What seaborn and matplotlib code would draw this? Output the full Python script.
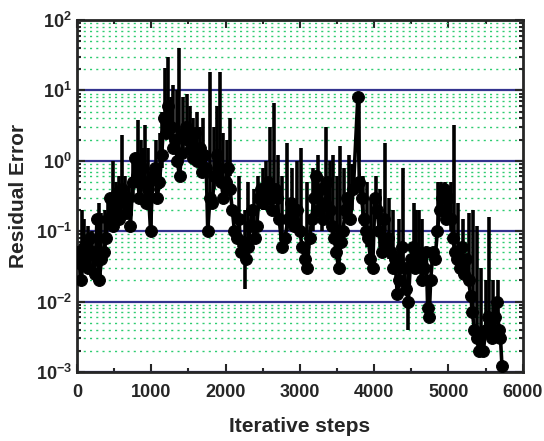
import numpy as np
import matplotlib
matplotlib.use("Agg")
import matplotlib.pyplot as plt
import seaborn as sns
from matplotlib.ticker import LogLocator, LogFormatterSciNotation, MultipleLocator


# -----------------------
# Data
# -----------------------
steps = [
    0, 30, 60, 90, 120, 150, 180, 210, 240, 270, 300, 330, 360, 390,
    420, 450, 480, 510, 540, 570, 600, 630, 660, 690, 720, 750, 780, 810,
    840, 870, 900, 930, 960, 990, 1020, 1050, 1080, 1110, 1140, 1170, 1200,
    1230, 1260, 1290, 1320, 1350, 1380, 1410, 1440, 1470, 1500, 1530, 1560,
    1590, 1620, 1650, 1680, 1710, 1740, 1760, 1790, 1820, 1850, 1880, 1910,
    1940, 1970, 2000, 2030, 2060, 2090, 2120, 2150, 2180, 2210, 2240, 2270,
    2300, 2330, 2360, 2390, 2420, 2450, 2480, 2510, 2540, 2570, 2600, 2630,
    2660, 2690, 2720, 2760, 2800, 2840, 2880, 2920, 2960, 3000, 3030, 3070,
    3100, 3130, 3160, 3190, 3220, 3250, 3280, 3310, 3340, 3370, 3400, 3430,
    3460, 3490, 3520, 3550, 3580, 3610, 3640, 3680, 3720, 3780, 3800, 3830,
    3860, 3890, 3920, 3950, 3980, 4010, 4040, 4070, 4100, 4130, 4160, 4190,
    4220, 4250, 4280, 4310, 4340, 4370, 4400, 4430, 4460, 4490, 4520, 4550,
    4580, 4610, 4640, 4670, 4700, 4720, 4740, 4760, 4790, 4820, 4850, 4880,
    4910, 4940, 4970, 5000, 5030, 5060, 5090, 5120, 5150, 5180, 5210, 5240,
    5270, 5300, 5320, 5350, 5380, 5410, 5440, 5470, 5500, 5530, 5560, 5590,
    5620, 5650, 5680, 5700, 5720,
]
residual = [
    0.05, 0.035, 0.02, 0.06, 0.04, 0.03, 0.08, 0.05, 0.025, 0.15, 0.02, 0.04,
    0.05, 0.08, 0.15, 0.3, 0.12, 0.2, 0.35, 0.15, 0.4, 0.25, 0.18, 0.3, 0.12,
    0.5, 1.1, 0.6, 0.3, 0.8, 0.5, 0.25, 0.4, 0.1, 0.6, 0.8, 0.3, 0.5, 1.2, 4.0,
    2.5, 6.0, 3.0, 1.5, 2.0, 1.0, 0.6, 1.3, 2.5, 3.0, 2.0, 1.5, 1.1, 2.5, 1.0,
    1.5, 0.7, 1.2, 0.8, 0.1, 0.3, 0.25, 0.6, 1.2, 0.8, 0.5, 0.3, 0.5, 0.8, 0.4,
    0.2, 0.1, 0.08, 0.15, 0.05, 0.07, 0.04, 0.06, 0.12, 0.2, 0.08, 0.12, 0.3,
    0.4, 0.25, 0.35, 0.5, 0.3, 0.2, 0.4, 0.3, 0.15, 0.06, 0.08, 0.15, 0.25,
    0.12, 0.2, 0.1, 0.06, 0.04, 0.03, 0.08, 0.15, 0.3, 0.6, 0.2, 0.4, 0.15,
    0.25, 0.5, 0.2, 0.12, 0.08, 0.05, 0.03, 0.07, 0.1, 0.2, 0.3, 0.15, 0.4,
    8.0, 0.5, 0.3, 0.15, 0.1, 0.08, 0.04, 0.03, 0.3, 0.2, 0.1, 0.05, 0.15,
    0.06, 0.08, 0.05, 0.03, 0.04, 0.013, 0.02, 0.06, 0.03, 0.015, 0.01, 0.04,
    0.06, 0.03, 0.05, 0.04, 0.02, 0.03, 0.05, 0.008, 0.006, 0.02, 0.05, 0.04,
    0.1, 0.2, 0.3, 0.4, 0.15, 0.3, 0.15, 0.08, 0.05, 0.04, 0.03, 0.06, 0.025,
    0.04, 0.02, 0.012, 0.007, 0.004, 0.003, 0.002, 0.0035, 0.002, 0.004,
    0.006, 0.005, 0.003, 0.006, 0.01, 0.004, 0.003, 0.0012,
]

# vertical excursions (spikes) between iterations
spike_x = [
    63, 100, 150, 200, 300, 330, 380, 420, 480, 520, 560, 600, 650, 700,
    760, 825, 860, 890, 915, 960, 1000, 1060, 1120, 1150, 1184, 1228, 1260,
    1296, 1340, 1376, 1430, 1475, 1520, 1560, 1610, 1660, 1700, 1788, 1840,
    1878, 1923, 1960, 2020, 2058, 2180, 2260, 2300, 2380, 2440, 2500, 2540,
    2596, 2654, 2700, 2760, 2820, 2900, 2960, 3021, 3100, 3180, 3240, 3300,
    3357, 3400, 3447, 3500, 3537, 3600, 3660, 3700, 3790, 3850, 3900, 3960,
    4030, 4080, 4142, 4200, 4260, 4330, 4389, 4456, 4530, 4560, 4600, 4650,
    4860, 4900, 4950, 4990, 5040, 5070, 5130, 5200, 5280, 5330, 5384, 5440,
    5500, 5540, 5600, 5660,
]
spike_low = [
    0.03, 0.05, 0.03, 0.04, 0.02, 0.04, 0.05, 0.12, 0.15, 0.2, 0.15, 0.3,
    0.2, 0.15, 0.3, 0.5, 0.3, 0.4, 0.4, 0.2, 0.1, 0.5, 0.4, 0.8, 3.0, 4.0,
    2.0, 2.0, 1.2, 1.0, 1.5, 2.0, 1.2, 1.0, 1.0, 0.8, 0.6, 0.3, 0.4, 1.0,
    0.6, 0.3, 0.4, 0.6, 0.06, 0.015, 0.04, 0.07, 0.2, 0.2, 0.2, 0.3, 0.4,
    0.2, 0.08, 0.1, 0.1, 0.1, 0.08, 0.03, 0.1, 0.3, 0.1, 0.3, 0.15, 0.12,
    0.04, 0.05, 0.15, 0.15, 0.2, 1.0, 0.12, 0.06, 0.03, 0.15, 0.06, 0.1,
    0.04, 0.03, 0.02, 0.03, 0.004, 0.04, 0.03, 0.03, 0.02, 0.1, 0.2, 0.2,
    0.15, 0.1, 0.06, 0.04, 0.03, 0.02, 0.007, 0.003, 0.0025, 0.004, 0.004,
    0.003, 0.003,
]
spike_high = [
    0.2, 0.15, 0.12, 0.1, 0.25, 0.18, 0.2, 0.3, 1.0, 0.5, 0.6, 2.3, 0.6,
    0.5, 1.0, 3.8, 2.0, 1.5, 3.2, 1.5, 0.8, 2.0, 2.5, 5.0, 21, 30, 8.0,
    12, 10, 40, 8, 9, 6, 4, 5, 3, 4, 18, 3, 6, 18, 2.5, 2.0, 4, 0.6,
    0.2, 0.5, 0.4, 0.6, 0.8, 1.0, 3.0, 6.6, 1.2, 0.6, 1.8, 0.8, 1.0, 1.5,
    0.5, 0.8, 1.2, 0.6, 3.0, 1.0, 1.2, 0.6, 1.6, 0.8, 1.2, 0.9, 8.0, 0.6,
    0.5, 0.3, 0.6, 0.4, 1.8, 0.3, 0.2, 0.15, 0.8, 0.03, 0.25, 0.2, 0.2,
    0.15, 0.5, 0.5, 0.5, 0.4, 0.5, 3.2, 0.25, 0.15, 0.18, 0.2, 0.12, 0.03,
    0.02, 0.16, 0.02, 0.02,
]


# -----------------------
# Style
# -----------------------
sns.set_style("ticks")
plt.rcParams["font.family"] = ["Liberation Sans", "DejaVu Sans"]
plt.rcParams["font.weight"] = "bold"
plt.rcParams["mathtext.default"] = "bf"


# -----------------------
# Plot
# -----------------------
fig, ax = plt.subplots(figsize=(5.44, 4.41), dpi=100)
fig.subplots_adjust(left=0.1415, right=0.961, top=0.9546, bottom=0.1565)

ax.vlines(spike_x, spike_low, spike_high, color="black", linewidth=2.6, zorder=3)

sns.lineplot(
    x=steps,
    y=residual,
    ax=ax,
    color="black",
    linewidth=2.6,
    marker="o",
    markersize=8.5,
    markeredgecolor="black",
    zorder=4,
)

ax.set_yscale("log")
ax.set_xlim(0, 6000)
ax.set_ylim(1e-3, 1e2)

ax.xaxis.set_major_locator(MultipleLocator(1000))
ax.xaxis.set_minor_locator(MultipleLocator(500))
ax.yaxis.set_major_locator(LogLocator(base=10, numticks=10))
ax.yaxis.set_minor_locator(LogLocator(base=10, subs=np.arange(2, 10), numticks=20))
ax.yaxis.set_major_formatter(LogFormatterSciNotation())

ax.grid(True, which="major", axis="y", color="#34348f", linewidth=1.6, linestyle="-")
ax.grid(True, which="minor", axis="y", color="#2ecc71", linewidth=1.0, linestyle=(0, (1.5, 3)))
ax.set_axisbelow(True)

ax.tick_params(axis="both", which="both", direction="in", top=True, right=True,
               width=1.5, labelsize=13)
ax.tick_params(axis="both", which="major", length=6)
ax.tick_params(axis="both", which="minor", length=3)
ax.tick_params(axis="x", which="major", pad=9)

for spine in ax.spines.values():
    spine.set_linewidth(2)

ax.set_xlabel("Iterative steps", fontsize=15, fontweight="bold", labelpad=11)
ax.set_ylabel("Residual Error", fontsize=15, fontweight="bold", labelpad=6)

plt.savefig("out.png", dpi=100)
